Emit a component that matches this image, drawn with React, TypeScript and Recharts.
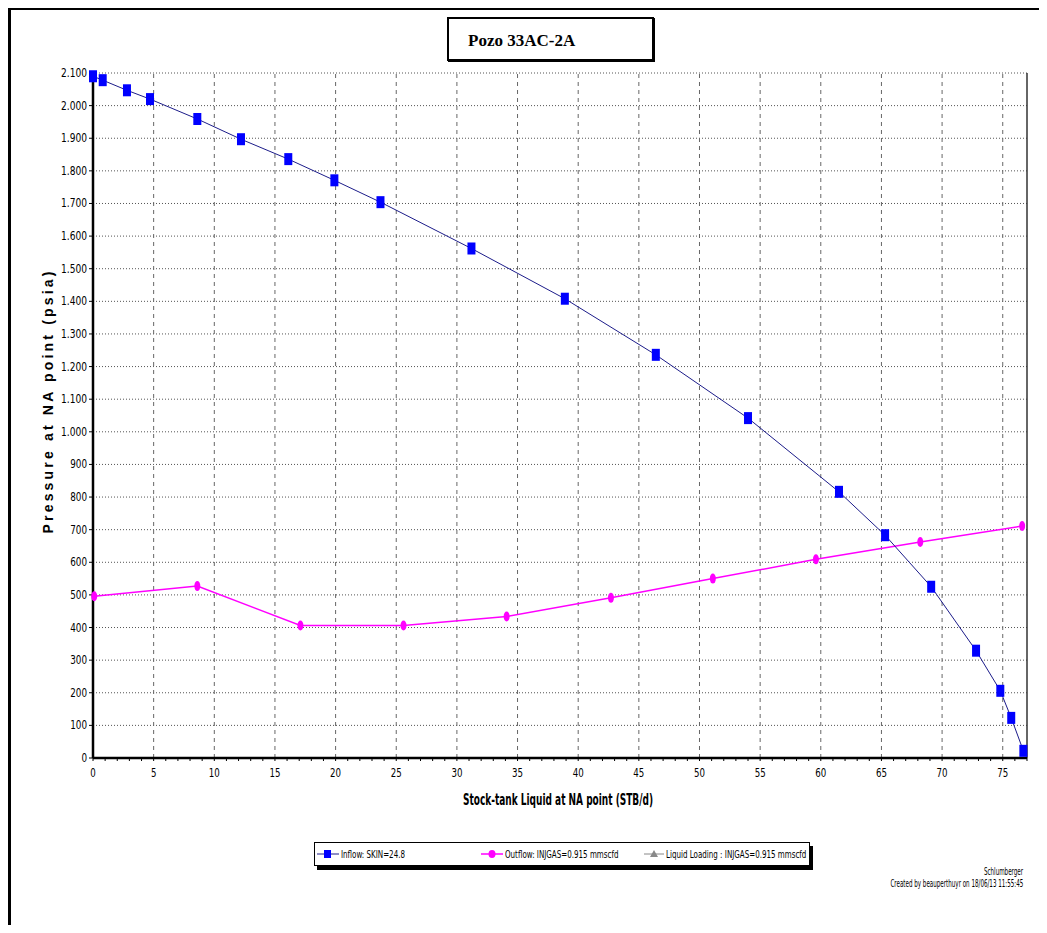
import React from "react";
import { LineChart, Line, XAxis, YAxis, CartesianGrid, ReferenceLine } from "recharts";

const inflowX = [0, 0.8, 2.8, 4.7, 8.6, 12.2, 16.1, 19.9, 23.7, 31.2, 38.9, 46.4, 54.0, 61.5, 65.3, 69.1, 72.8, 74.8, 75.7, 76.7];
const inflowY = [2090, 2078, 2047, 2020, 1959, 1897, 1836, 1771, 1704, 1562, 1408, 1236, 1042, 816, 683, 525, 329, 206, 123, 22];
const outflowX = [0.1, 8.6, 17.1, 25.6, 34.1, 42.7, 51.1, 59.6, 68.2, 76.6];
const outflowY = [496, 527, 406, 406, 434, 491, 550, 609, 662, 711];

const xMajorTicks = [0, 5, 10, 15, 20, 25, 30, 35, 40, 45, 50, 55, 60, 65, 70, 75];
const xMinorTicks = Array.from({ length: 78 }, (_, i) => i);
const yTicks = [0, 100, 200, 300, 400, 500, 600, 700, 800, 900, 1000, 1100, 1200, 1300, 1400, 1500, 1600, 1700, 1800, 1900, 2000, 2100];

const title = "Pozo 33AC-2A";
const xLabel = "Stock-tank Liquid at NA point (STB/d)";
const yLabel = "Pressure at NA point (psia)";
const legendItems = ["Inflow: SKIN=24.8", "Outflow: INJGAS=0.915 mmscfd", "Liquid Loading : INJGAS=0.915 mmscfd"];
const footer1 = "Schlumberger";
const footer2 = "Created by beauperthuyr on 18/06/13 11:55:45";

const inflow = inflowX.map((x, i) => ({ x, y: inflowY[i] }));
const outflow = outflowX.map((x, i) => ({ x, y: outflowY[i] }));

const NARROW = "'Liberation Sans Narrow', 'Arial Narrow', 'DejaVu Sans Condensed', 'DejaVu Sans', sans-serif";

const fmtY = (v: number) =>
  v >= 1000 ? `${Math.floor(v / 1000)}.${String(v % 1000).padStart(3, "0")}` : String(v);

const SquareDot = (props: any) => {
  const { cx, cy } = props;
  if (cx == null || cy == null) return <g />;
  return <rect x={cx - 4} y={cy - 6} width={8} height={12} fill="#0000ff" />;
};

const EllipseDot = (props: any) => {
  const { cx, cy } = props;
  if (cx == null || cy == null) return <g />;
  return <ellipse cx={cx} cy={cy} rx={3} ry={5} fill="#ff00ff" />;
};

const XTick = (props: any) => {
  const { x, y, payload } = props;
  if (payload.value % 5 !== 0) return <g />;
  const s = String(payload.value);
  return (
    <text
      x={x}
      y={y + 14}
      textAnchor="middle"
      fontFamily={NARROW}
      fontSize={12}
      fill="#000"
      textLength={s.length * 5.5}
      lengthAdjust="spacingAndGlyphs"
    >
      {s}
    </text>
  );
};

const YTick = (props: any) => {
  const { x, y, payload } = props;
  const s = fmtY(payload.value);
  const w = s.length === 5 ? 26 : s.length * 5.6;
  return (
    <text
      x={x - w}
      y={y}
      dy={4}
      textAnchor="start"
      fontFamily={NARROW}
      fontSize={12}
      fill="#000"
      textLength={w}
      lengthAdjust="spacingAndGlyphs"
    >
      {s}
    </text>
  );
};

const Squeeze = ({ children, sx, origin }: { children: React.ReactNode; sx: number; origin: string }) => (
  <span style={{ display: "inline-block", transform: `scaleX(${sx})`, transformOrigin: origin, whiteSpace: "nowrap" }}>
    {children}
  </span>
);

export default function App() {
  return (
    <div style={{ position: "relative", width: 1047, height: 933, margin: -8, background: "#fff", overflow: "hidden" }}>
      {/* outer frame */}
      <div
        style={{
          position: "absolute",
          left: 8,
          top: 7,
          width: 1100,
          height: 1000,
          borderTop: "3px solid #000",
          borderLeft: "3px solid #000",
        }}
      />
      <LineChart
        width={1047}
        height={933}
        margin={{ top: 73, right: 20, bottom: 147, left: 43 }}
        style={{ position: "absolute", left: 0, top: 0 }}
      >
        <CartesianGrid horizontal vertical={false} stroke="#555" strokeDasharray="1 2" />
        {xMajorTicks.map((v) => (
          <ReferenceLine key={v} x={v} stroke="#666" strokeDasharray="4 4" />
        ))}
        <ReferenceLine x={77} stroke="#333" strokeWidth={1.5} />
        <XAxis
          dataKey="x"
          type="number"
          domain={[0, 77]}
          ticks={xMinorTicks}
          interval={0}
          height={28}
          tick={<XTick />}
          tickSize={3}
          axisLine={{ stroke: "#000", strokeWidth: 2.5 }}
          tickLine={{ stroke: "#000" }}
          label={{
            content: (p: any) => {
              const vb = p.viewBox || {};
              const cx = (vb.x ?? 93) + (vb.width ?? 934) / 2 - 2;
              return (
                <text
                  x={cx}
                  y={805}
                  textAnchor="middle"
                  fontFamily={NARROW}
                  fontWeight="bold"
                  fontSize={15}
                  fill="#000"
                  textLength={190}
                  lengthAdjust="spacingAndGlyphs"
                >
                  {xLabel}
                </text>
              );
            },
          }}
        />
        <YAxis
          dataKey="y"
          type="number"
          domain={[0, 2100]}
          ticks={yTicks}
          interval={0}
          width={50}
          tickSize={4}
          tick={<YTick />}
          axisLine={{ stroke: "#000", strokeWidth: 2.5 }}
          tickLine={{ stroke: "#000" }}
          label={{
            content: (p: any) => {
              const vb = p.viewBox || {};
              const cx = 48;
              const cy = (vb.y ?? 73) + (vb.height ?? 685) / 2 - 13;
              return (
                <text
                  x={cx}
                  y={cy}
                  transform={`rotate(-90, ${cx}, ${cy})`}
                  textAnchor="middle"
                  dominantBaseline="central"
                  fontFamily="'Liberation Sans', Arial, sans-serif"
                  fontWeight="bold"
                  fontSize={14}
                  fill="#000"
                  textLength={262}
                  lengthAdjust="spacing"
                >
                  {yLabel}
                </text>
              );
            },
          }}
        />
        <Line
          data={outflow}
          dataKey="y"
          stroke="#ff00ff"
          strokeWidth={1.5}
          dot={<EllipseDot />}
          isAnimationActive={false}
          legendType="none"
        />
        <Line
          data={inflow}
          dataKey="y"
          stroke="#1c1c8a"
          strokeWidth={1}
          dot={<SquareDot />}
          isAnimationActive={false}
          legendType="none"
        />
      </LineChart>

      {/* title box */}
      <div
        style={{
          position: "absolute",
          left: 447,
          top: 17,
          width: 207,
          height: 44,
          border: "2px solid #000",
          boxShadow: "1px 1px 0 #000",
          background: "#fff",
          fontFamily: "'Liberation Serif', 'Times New Roman', serif",
          fontWeight: "bold",
          fontSize: 17,
          lineHeight: "44px",
          paddingLeft: 19,
          boxSizing: "border-box",
          whiteSpace: "nowrap",
        }}
      >
        {title}
      </div>

      {/* legend */}
      <div
        style={{
          position: "absolute",
          left: 314,
          top: 842,
          width: 494,
          height: 22,
          border: "1px solid #000",
          boxShadow: "3px 4px 0 #000",
          background: "#fff",
          fontFamily: NARROW,
          fontSize: 11,
          color: "#000",
          whiteSpace: "nowrap",
        }}
      >
        <div style={{ position: "absolute", left: 2, top: 4, display: "flex", alignItems: "center" }}>
          <svg width={22} height={14}>
            <line x1={0} y1={7} x2={22} y2={7} stroke="#1c1c8a" strokeWidth={1} />
            <rect x={7} y={3} width={7} height={8} fill="#0000ff" />
          </svg>
          <span style={{ marginLeft: 2 }}>
            <Squeeze sx={0.72} origin="left center">{legendItems[0]}</Squeeze>
          </span>
        </div>
        <div style={{ position: "absolute", left: 166, top: 4, display: "flex", alignItems: "center" }}>
          <svg width={22} height={14}>
            <line x1={0} y1={7} x2={22} y2={7} stroke="#ff00ff" strokeWidth={1.5} />
            <ellipse cx={11} cy={7} rx={3.5} ry={4} fill="#ff00ff" />
          </svg>
          <span style={{ marginLeft: 2 }}>
            <Squeeze sx={0.72} origin="left center">{legendItems[1]}</Squeeze>
          </span>
        </div>
        <div style={{ position: "absolute", left: 329, top: 4, display: "flex", alignItems: "center" }}>
          <svg width={20} height={14}>
            <line x1={0} y1={7} x2={20} y2={7} stroke="#888" strokeWidth={1} />
            <polygon points="10,3 14,10 6,10" fill="#888" />
          </svg>
          <span style={{ marginLeft: 2 }}>
            <Squeeze sx={0.72} origin="left center">{legendItems[2]}</Squeeze>
          </span>
        </div>
      </div>

      {/* footer */}
      <div
        style={{
          position: "absolute",
          right: 24,
          top: 866,
          textAlign: "right",
          fontFamily: NARROW,
          fontSize: 10,
          lineHeight: "12px",
          color: "#000",
          whiteSpace: "nowrap",
        }}
      >
        <div>
          <Squeeze sx={0.62} origin="right center">{footer1}</Squeeze>
        </div>
        <div>
          <Squeeze sx={0.62} origin="right center">{footer2}</Squeeze>
        </div>
      </div>
    </div>
  );
}
